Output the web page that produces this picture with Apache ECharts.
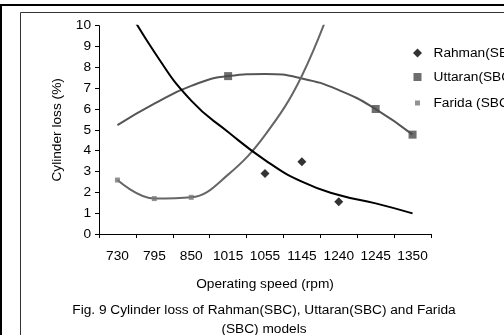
<!DOCTYPE html>
<html>
<head>
<meta charset="utf-8">
<script src="https://cdn.jsdelivr.net/npm/echarts@6/dist/echarts.min.js"></script>
<style>
  html, body { margin: 0; padding: 0; background: #fff; }
  #chart { width: 504px; height: 335px; }
</style>
</head>
<body>
<div id="chart"></div>
<script>
var speeds = ["730", "795", "850", "1015", "1055", "1145", "1240", "1245", "1350"];

// measured points (markers)
var rahmanPts  = ['-', '-', '-', '-', 2.91, 3.47, 1.55, '-', '-'];
var uttaranPts = ['-', '-', '-', 7.58, '-', '-', '-', 6.0, 4.77];
var faridaPts  = [2.59, 1.70, 1.76, '-', '-', '-', '-', '-', '-'];

// fitted curves
var rahmanFit  = [11.7, 8.74, 6.40, 4.90, 3.55, 2.51, 1.87, 1.47, 0.99];
var uttaranFit = [5.23, 6.26, 7.11, 7.58, 7.68, 7.47, 6.91, 6.0, 4.77];
var faridaFit  = [2.59, 1.70, 1.76, 2.85, 4.75, 7.6, 12.0, '-', '-'];

var yTicks = { min: 0, max: 10, step: 1 };

var chart = echarts.init(document.getElementById('chart'), null, { renderer: 'canvas' });
var font = 'Liberation Sans, Arial, sans-serif';
var fs = 13.7;

function legendBox(name, icon, size, top) {
    return {
        data: [name],
        left: 412.5 - size / 2,
        top: top,
        orient: 'vertical',
        icon: icon,
        itemWidth: size,
        itemHeight: size,
        textStyle: { fontFamily: font, fontSize: fs, color: '#000', padding: [0, 0, 0, 11 - size / 2] }
    };
}

var option = {
    animation: false,
    title: {
        text: 'Fig. 9 Cylinder loss of Rahman(SBC), Uttaran(SBC) and Farida\n(SBC) models',
        left: 259,
        top: 296,
        textAlign: 'center',
        textStyle: { fontFamily: font, fontSize: fs, fontWeight: 'normal', color: '#000', lineHeight: 19 }
    },
    graphic: [
        { type: 'rect', shape: { x: 1, y: 5, width: 600, height: 400 }, style: { fill: 'none', stroke: '#000', lineWidth: 2 }, silent: true },
        { type: 'rect', shape: { x: 20.5, y: 12.5, width: 600, height: 400 }, style: { fill: 'none', stroke: '#333', lineWidth: 1 }, silent: true }
    ],
    legend: [
        legendBox('Rahman(SBC)', 'diamond', 9, 41),
        legendBox('Uttaran(SBC)', 'rect', 8, 65),
        legendBox('Farida (SBC)', 'rect', 5, 91)
    ],
    grid: { left: 99, right: 73, top: 25.7, bottom: 101 },
    xAxis: {
        type: 'category',
        data: speeds,
        boundaryGap: true,
        name: 'Operating speed (rpm)',
        nameLocation: 'middle',
        nameGap: 43,
        nameTextStyle: { fontFamily: font, fontSize: fs, color: '#000' },
        axisLine: { lineStyle: { color: '#000', width: 1 } },
        axisTick: { show: true, length: 4, lineStyle: { color: '#000' } },
        axisLabel: { fontFamily: font, fontSize: fs, color: '#000', margin: 15, interval: 0 },
        splitLine: { show: false }
    },
    yAxis: {
        type: 'value',
        min: yTicks.min,
        max: yTicks.max,
        interval: yTicks.step,
        name: 'Cylinder loss (%)',
        nameLocation: 'middle',
        nameGap: 35,
        nameTextStyle: { fontFamily: font, fontSize: fs, color: '#000' },
        axisLine: { show: true, lineStyle: { color: '#000', width: 1 } },
        axisTick: { show: true, length: 4, lineStyle: { color: '#000' } },
        axisLabel: { fontFamily: font, fontSize: fs, color: '#000', margin: 8 },
        splitLine: { show: false }
    },
    series: [
        { type: 'line', data: uttaranFit, smooth: true, showSymbol: false, clip: true,
          lineStyle: { color: '#555', width: 2 }, silent: true, z: 2 },
        { type: 'line', data: faridaFit, smooth: 0.4, showSymbol: false, clip: true,
          lineStyle: { color: '#666', width: 2 }, silent: true, z: 2 },
        { type: 'line', data: rahmanFit, smooth: true, showSymbol: false, clip: true,
          lineStyle: { color: '#000', width: 2 }, silent: true, z: 3 },
        { name: 'Rahman(SBC)', type: 'scatter', data: rahmanPts, symbol: 'diamond', symbolSize: 9,
          itemStyle: { color: '#000' }, z: 4 },
        { name: 'Uttaran(SBC)', type: 'scatter', data: uttaranPts, symbol: 'rect', symbolSize: 8,
          itemStyle: { color: '#4a4a4a' }, z: 4 },
        { name: 'Farida (SBC)', type: 'scatter', data: faridaPts, symbol: 'rect', symbolSize: 5,
          itemStyle: { color: '#777' }, z: 4 }
    ]
};

chart.setOption(option);
</script>
</body>
</html>
